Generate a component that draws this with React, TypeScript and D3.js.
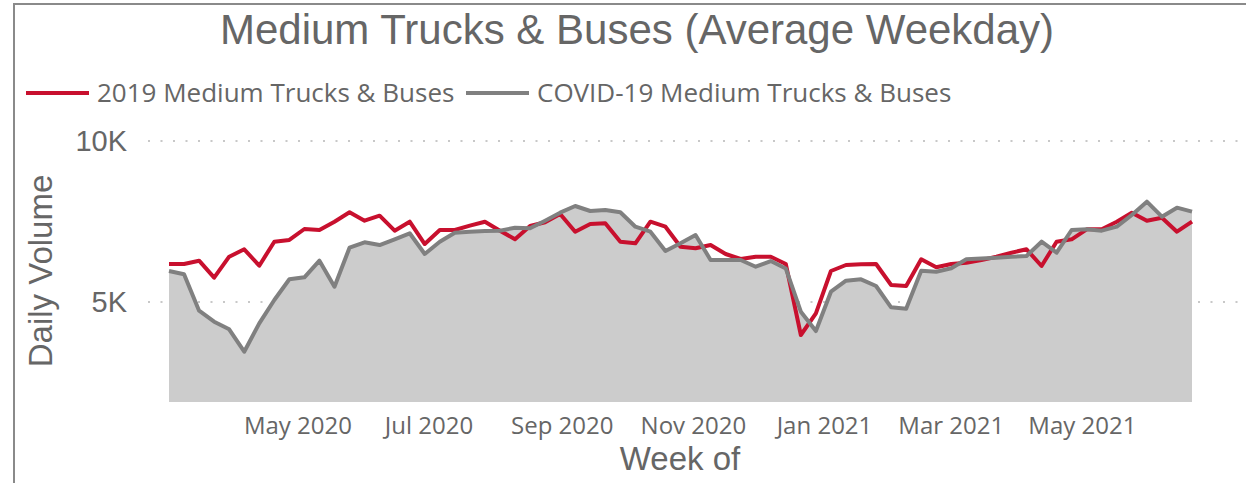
import React, { useEffect, useRef } from 'react';
import * as d3 from 'd3';

// weekly values, week of Mon 2 Mar 2020 .. Mon 21 Jun 2021
const firstWeek = new Date(2020, 2, 2);
const lastWeek = new Date(2021, 5, 21);

const series2019 = [
  6180, 6180, 6283, 5755, 6407, 6637, 6127, 6873, 6926, 7267, 7236, 7494, 7786, 7525,
  7680, 7215, 7494, 6801, 7236, 7236, 7370, 7494, 7215, 6947, 7361, 7475, 7733, 7184,
  7423, 7444, 6873, 6823, 7494, 7339, 6718, 6668, 6770, 6491, 6336, 6407, 6407, 6180,
  3975, 4649, 5963, 6149, 6171, 6180, 5528, 5497, 6326, 6078, 6180, 6221, 6300,
  6407, 6531, 6637, 6118, 6873, 6947, 7258, 7258, 7494, 7774, 7525, 7618, 7184, 7494,
];

const seriesCovid = [
  5963, 5860, 4730, 4388, 4152, 3456, 4338, 5062, 5705, 5767, 6283, 5475, 6687, 6854,
  6770, 6947, 7134, 6491, 6873, 7152, 7184, 7205, 7215, 7308, 7289, 7525, 7774, 7982,
  7826, 7858, 7786, 7339, 7184, 6584, 6823, 7081, 6305, 6305, 6305, 6096, 6273, 6040,
  4699, 4099, 5320, 5662, 5705, 5497, 4835, 4792, 5972, 5941, 6047, 6326, 6354,
  6376, 6407, 6429, 6873, 6531, 7236, 7258, 7215, 7339, 7702, 8115, 7649, 7929, 7805,
];

const yTicks = [5000, 10000];
const legendNames = ['2019 Medium Trucks & Buses', 'COVID-19 Medium Trucks & Buses'];
const colors = { y2019: '#c8102e', covid: '#808080', area: '#cccccc', text: '#666666', grid: '#c8c8c8' };

const W = 1247, H = 483;

export default function App() {
  const ref = useRef<SVGSVGElement>(null);

  useEffect(() => {
    document.body.style.margin = '0';
    const svg = d3.select(ref.current);
    svg.selectAll('*').remove();

    const weeks = d3.timeMonday.range(firstWeek, d3.timeDay.offset(lastWeek, 1));
    const rows = weeks.map((d, i) => ({ date: d, a: series2019[i], b: seriesCovid[i] }));

    const plotBottom = 402;
    const x = d3.scaleTime().domain([firstWeek, lastWeek]).range([169, 1192]);
    const y = d3.scaleLinear().domain([5000, 10000]).range([302, 141]);

    const sans = '"Liberation Sans", Arial, sans-serif';
    const ui = '"Segoe UI", "Open Sans", sans-serif';

    // frame
    svg.append('path')
      .attr('d', `M14,${H} L14,4 L${W - 1},4`)
      .attr('fill', 'none')
      .attr('stroke', '#8a8a8a')
      .attr('stroke-width', 2);

    // title
    svg.append('text')
      .attr('x', 637).attr('y', 44)
      .attr('text-anchor', 'middle')
      .style('font-family', sans).style('font-size', '42px')
      .attr('fill', colors.text)
      .text('Medium Trucks & Buses (Average Weekday)');

    // legend
    const legend = svg.append('g');
    const lx = [26, 466];
    [colors.y2019, colors.covid].forEach((c, i) => {
      legend.append('line')
        .attr('x1', lx[i]).attr('x2', lx[i] + 63)
        .attr('y1', 93).attr('y2', 93)
        .attr('stroke', c).attr('stroke-width', 4);
      legend.append('text')
        .attr('x', lx[i] + 71).attr('y', 102)
        .style('font-family', ui).style('font-size', '26px')
        .attr('fill', colors.text)
        .text(legendNames[i]);
    });

    // gridlines + y ticks
    yTicks.forEach(t => {
      svg.append('line')
        .attr('x1', 148).attr('x2', 1240)
        .attr('y1', y(t)).attr('y2', y(t))
        .attr('stroke', colors.grid).attr('stroke-width', 2)
        .attr('stroke-dasharray', '2,10.5');
      svg.append('text')
        .attr('x', 127).attr('y', y(t) + 10)
        .attr('text-anchor', 'end')
        .style('font-family', sans).style('font-size', '29px')
        .attr('fill', colors.text)
        .text(d3.format('~s')(t).replace('k', 'K'));
    });

    svg.append('text')
      .attr('transform', 'translate(52,271) rotate(-90)')
      .attr('text-anchor', 'middle')
      .style('font-family', sans).style('font-size', '33px')
      .attr('fill', colors.text)
      .text('Daily Volume');

    // area under covid series
    const area = d3.area<any>()
      .x(d => x(d.date))
      .y0(plotBottom)
      .y1(d => y(d.b));
    svg.append('path').datum(rows).attr('d', area).attr('fill', colors.area);

    const line = (key: 'a' | 'b') => d3.line<any>().x(d => x(d.date)).y(d => y(d[key]));

    svg.append('path').datum(rows).attr('d', line('a'))
      .attr('fill', 'none').attr('stroke', colors.y2019)
      .attr('stroke-width', 4).attr('stroke-linejoin', 'round');
    svg.append('path').datum(rows).attr('d', line('b'))
      .attr('fill', 'none').attr('stroke', colors.covid)
      .attr('stroke-width', 4).attr('stroke-linejoin', 'round');

    // x axis labels
    const xTicks = d3.timeMonth.every(2)!.range(new Date(2020, 4, 1), new Date(2021, 5, 1));
    svg.append('g').selectAll('text').data(xTicks).enter().append('text')
      .attr('x', d => x(d)).attr('y', 434)
      .attr('text-anchor', 'middle')
      .style('font-family', ui).style('font-size', '24px')
      .attr('fill', colors.text)
      .text(d => d3.timeFormat('%b %Y')(d));

    svg.append('text')
      .attr('x', 680).attr('y', 470)
      .attr('text-anchor', 'middle')
      .style('font-family', sans).style('font-size', '33px')
      .attr('fill', colors.text)
      .text('Week of');
  }, []);

  return <svg ref={ref} width={W} height={H} style={{ display: 'block', background: '#fff' }} />;
}
